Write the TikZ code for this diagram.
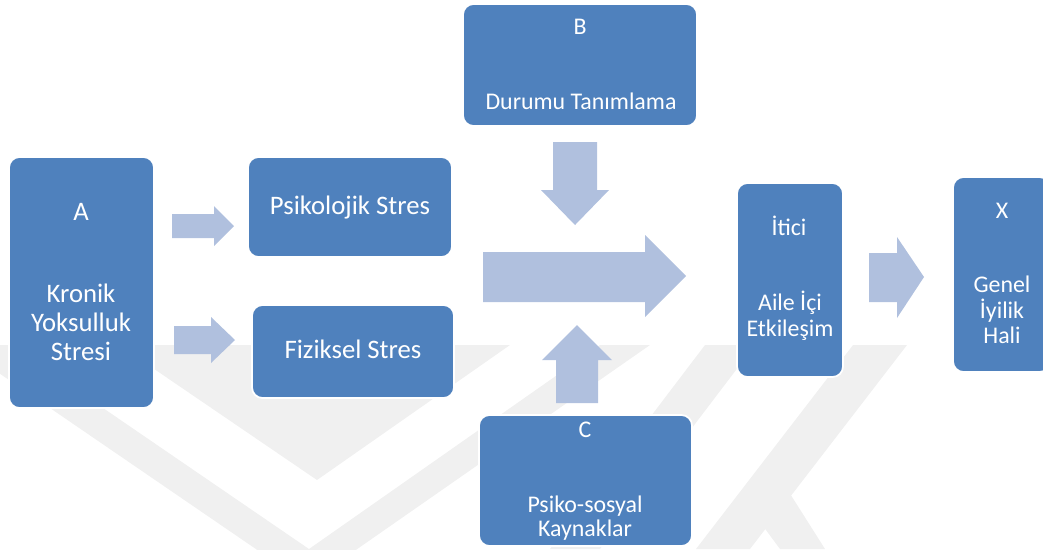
\documentclass[tikz,border=0pt]{standalone}
\usepackage{fontspec}
\setmainfont{Carlito}
\usetikzlibrary{fit}
\definecolor{boxblue}{HTML}{4F81BD}
\definecolor{arrowblue}{HTML}{B0C0DE}
\definecolor{wmgray}{HTML}{F0F0F0}
\begin{document}
\begin{tikzpicture}[x=0.02cm,y=-0.02cm,
  box/.style={fill=boxblue,draw=white,line width=1pt,rounded corners=6pt,inner sep=0pt},
  lbl/.style={text=white,inner sep=0pt,anchor=base,font=\fontsize{13.6}{16.4}\selectfont},
  big/.style={font=\fontsize{15.2}{18}\selectfont},
  barrow/.style={fill=arrowblue},
  wm/.style={fill=wmgray}]
\useasboundingbox (0,0) rectangle (1043,549);
% faint watermark
\begin{scope}
\clip (0,345) rectangle (1043,549);
\fill[wm] (-42,345) -- (11,345) -- (309,549) -- (600,345) -- (650,345) -- (307,584) -- cycle;
\fill[wm] (119,345) -- (510,345) -- (317,480) -- cycle;
\fill[wm] (705,345) -- (755,345) -- (600,549) -- (550,549) -- cycle;
\fill[wm] (853,345) -- (907,345) -- (750,549) -- (696,549) -- cycle;
\fill[wm] (740,495) -- (775,470) -- (825,549) -- (780,549) -- cycle;
\end{scope}
% block arrows
\fill[barrow] (172,214) -- (214,214) -- (214,206) -- (234,226) -- (214,246) -- (214,238) -- (172,238) -- cycle;
\fill[barrow] (174,326) -- (211,326) -- (211,317) -- (235,340) -- (211,363) -- (211,354) -- (174,354) -- cycle;
\fill[barrow] (483,252) -- (645,252) -- (645,235) -- (686,276) -- (645,317) -- (645,302) -- (483,302) -- cycle;
\fill[barrow] (553,142) -- (597,142) -- (597,190) -- (609,190) -- (575,225) -- (541,190) -- (553,190) -- cycle;
\fill[barrow] (556,403) -- (598,403) -- (598,360) -- (612,360) -- (577,325) -- (542,360) -- (556,360) -- cycle;
\fill[barrow] (869,253) -- (897,253) -- (897,237) -- (924,277) -- (897,318) -- (897,302) -- (869,302) -- cycle;
% boxes
\node[box,fit={(9,157)(154,408)}] (A) {};
\node[box,fit={(248,157)(452,257)}] (P) {};
\node[box,fit={(252,305)(454,398)}] (F) {};
\node[box,fit={(463,4)(697,126)}] (B) {};
\node[box,fit={(479,415)(692,546)}] (C) {};
\node[box,fit={(737,183)(843,377)}] (I) {};
\node[box,fit={(953,177)(1050,372)}] (X) {};
% labels
\node[lbl,big] (a1) at (81,220) {A};
\node[lbl,big] (a2) at (81,302) {Kronik};
\node[lbl,big] (a3) at (81,331) {Yoksulluk};
\node[lbl,big] (a4) at (81,360) {Stresi};
\node[lbl,big] (p1) at (350,214) {Psikolojik Stres};
\node[lbl,big] (f1) at (353,358) {Fiziksel Stres};
\node[lbl] (b1) at (580,34) {B};
\node[lbl] (b2) at (581,109) {Durumu Tanımlama};
\node[lbl] (c1) at (585,437) {C};
\node[lbl] (c2) at (585,512) {Psiko-sosyal};
\node[lbl] (c3) at (585,536) {Kaynaklar};
\node[lbl] (i1) at (789,235) {İtici};
\node[lbl] (i2) at (790,310) {Aile İçi};
\node[lbl] (i3) at (790,336) {Etkileşim};
\node[lbl] (x1) at (1002,218) {X};
\node[lbl] (x2) at (1002,292) {Genel};
\node[lbl] (x3) at (1002,318) {İyilik};
\node[lbl] (x4) at (1002,343) {Hali};
\end{tikzpicture}
\end{document}
